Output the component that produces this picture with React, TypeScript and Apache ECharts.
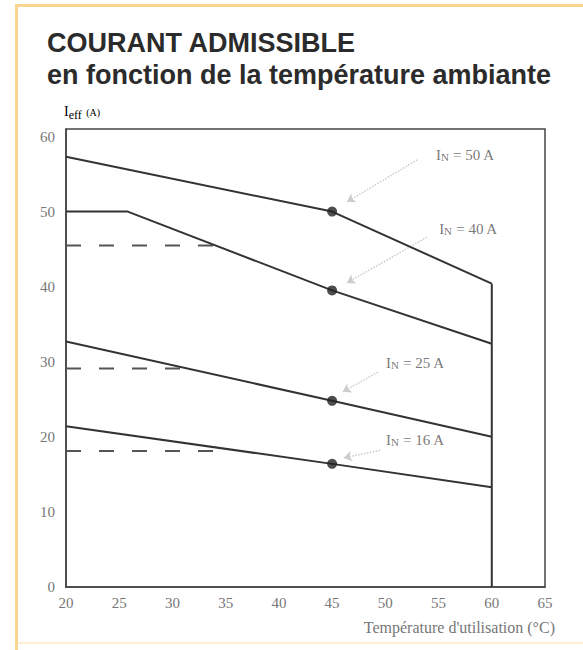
import React, { useEffect, useRef } from "react";
import * as echarts from "echarts";

const TITLE_1 = "COURANT ADMISSIBLE";
const TITLE_2 = "en fonction de la température ambiante";
const X_NAME = "Température d'utilisation (°C)";
const X_MIN = 20;
const X_MAX = 65;
const X_STEP = 5;
const Y_MIN = 0;
const Y_MAX = 61;
const Y_STEP = 10;

const curve50 = [[20, 57.3], [45, 50], [60, 40.4]];
const curve40 = [[20, 50], [25.8, 50], [45, 39.5], [60, 32.4]];
const curve25 = [[20, 32.7], [45, 24.8], [60, 20.0]];
const curve16 = [[20, 21.4], [45, 16.4], [60, 13.3]];
const cutoff = [[60, 40.4], [60, 0]];
const dash40 = [[20, 45.5], [34.5, 45.5]];
const dash25 = [[20, 29.1], [31.4, 29.1]];
const dash16 = [[20, 18.1], [34.3, 18.1]];
const ratedPoints = [[45, 50], [45, 39.5], [45, 24.8], [45, 16.4]];
const ratings = ["50", "40", "25", "16"];
const labelPos = [[57.5, 57.5], [57.8, 47.7], [52.8, 29.8], [52.8, 19.6]];
const arrowFrom = [[53.0, 56.9], [53.9, 46.6], [49.3, 28.6], [49.5, 18.2]];
const arrowTo = [[46.4, 51.3], [46.4, 40.5], [46.0, 26.0], [46.1, 17.2]];

const SERIF = '"Liberation Serif", "DejaVu Serif", serif';
const SANS = '"Liberation Sans", Arial, sans-serif';

export default function App() {
  const ref = useRef<HTMLDivElement>(null);
  useEffect(() => {
    if (!ref.current) return;
    const chart = echarts.init(ref.current, undefined, { renderer: "svg" });
    const solid = (name: string, data: number[][]) => ({
      name,
      type: "line",
      data,
      showSymbol: false,
      silent: true,
      lineStyle: { color: "#333", width: 2 },
      z: 3,
    });
    const dashed = (name: string, data: number[][]) => ({
      name,
      type: "line",
      data,
      showSymbol: false,
      silent: true,
      lineStyle: { color: "#555", width: 2, type: [15, 18] },
      z: 2,
    });
    chart.setOption({
      animation: false,
      backgroundColor: "#ffffff",
      grid: {
        left: 66,
        right: 38,
        top: 129,
        bottom: 63,
        show: true,
        borderColor: "#444",
        borderWidth: 1.5,
        containLabel: false,
      },
      xAxis: {
        type: "value",
        min: X_MIN,
        max: X_MAX,
        interval: X_STEP,
        axisLine: { show: true, lineStyle: { color: "#444", width: 1.5 } },
        axisTick: { show: false },
        splitLine: { show: false },
        axisLabel: { color: "#777", fontFamily: SERIF, fontSize: 15, margin: 8 },
      },
      yAxis: {
        type: "value",
        min: Y_MIN,
        max: Y_MAX,
        interval: Y_STEP,
        axisLine: { show: true, lineStyle: { color: "#444", width: 1.5 } },
        axisTick: { show: false },
        splitLine: { show: false },
        axisLabel: {
          color: "#777",
          fontFamily: SERIF,
          fontSize: 15,
          margin: 11,
          showMaxLabel: false,
          formatter: (v: number) => (v % 10 === 0 ? String(v) : ""),
        },
      },
      graphic: [
        { type: "rect", shape: { x: 15, y: 4, width: 568, height: 3 }, style: { fill: "#f8d68e" } },
        { type: "rect", shape: { x: 15, y: 4, width: 3, height: 646 }, style: { fill: "#f8d68e" } },
        { type: "rect", shape: { x: 18, y: 642, width: 565, height: 2 }, style: { fill: "#fcefd2" } },
        {
          type: "text",
          x: 47,
          y: 29,
          style: { text: TITLE_1, font: `bold 27px ${SANS}`, fill: "#2b2b2b", verticalAlign: "top" },
        },
        {
          type: "text",
          x: 47,
          y: 61,
          style: { text: TITLE_2, font: `bold 27px ${SANS}`, fill: "#2b2b2b", verticalAlign: "top" },
        },
        {
          type: "text",
          x: 64,
          y: 103,
          style: {
            text: "{i|I}{e|eff}{a| (A)}",
            verticalAlign: "top",
            fontWeight: "normal",
            rich: {
              i: { fontFamily: SERIF, fontSize: 14, fontWeight: "normal", color: "#888", lineHeight: 16 },
              e: { fontFamily: SERIF, fontSize: 12, fontWeight: "normal", color: "#999", lineHeight: 16, padding: [7, 2, 0, 0] },
              a: { fontFamily: SERIF, fontSize: 10, fontWeight: "normal", color: "#aaa", lineHeight: 16, padding: [2, 0, 0, 0] },
            },
          },
        },
        {
          type: "text",
          x: 555,
          y: 627,
          style: {
            text: X_NAME,
            font: `16px ${SERIF}`,
            fill: "#777",
            align: "right",
            verticalAlign: "middle",
          },
        },
      ],
      series: [
        solid("IN = 50 A", curve50),
        solid("IN = 40 A", curve40),
        solid("IN = 25 A", curve25),
        solid("IN = 16 A", curve16),
        solid("limite", cutoff),
        dashed("d40", dash40),
        dashed("d25", dash25),
        dashed("d16", dash16),
        {
          name: "points",
          type: "scatter",
          data: ratedPoints,
          symbolSize: 10,
          itemStyle: { color: "#222" },
          silent: true,
          z: 4,
        },
        {
          name: "arrows",
          type: "lines",
          coordinateSystem: "cartesian2d",
          data: arrowFrom.map((f, i) => ({ coords: [f, arrowTo[i]] })),
          symbol: ["none", "arrow"],
          symbolSize: 8,
          lineStyle: { color: "#cccccc", width: 1.5, type: "dotted", opacity: 1 },
          silent: true,
          z: 3,
        },
        {
          name: "labels",
          type: "scatter",
          data: labelPos.map((p, i) => ({ value: p, name: ratings[i] })),
          symbolSize: 0,
          silent: true,
          label: {
            show: true,
            position: "inside",
            formatter: (p: any) => `{i|I}{n|N}{t| = ${p.name} A}`,
            rich: {
              i: { fontFamily: SERIF, fontSize: 15, color: "#555", lineHeight: 18 },
              n: { fontFamily: SERIF, fontSize: 11, color: "#555", lineHeight: 18, padding: [4, 0, 0, 0] },
              t: { fontFamily: SERIF, fontSize: 15, color: "#555", lineHeight: 18 },
            },
          },
          z: 5,
        },
      ],
    });
    return () => chart.dispose();
  }, []);
  return (
    <div
      ref={ref}
      style={{ position: "fixed", left: 0, top: 0, width: 583, height: 650, background: "#fff" }}
    />
  );
}
